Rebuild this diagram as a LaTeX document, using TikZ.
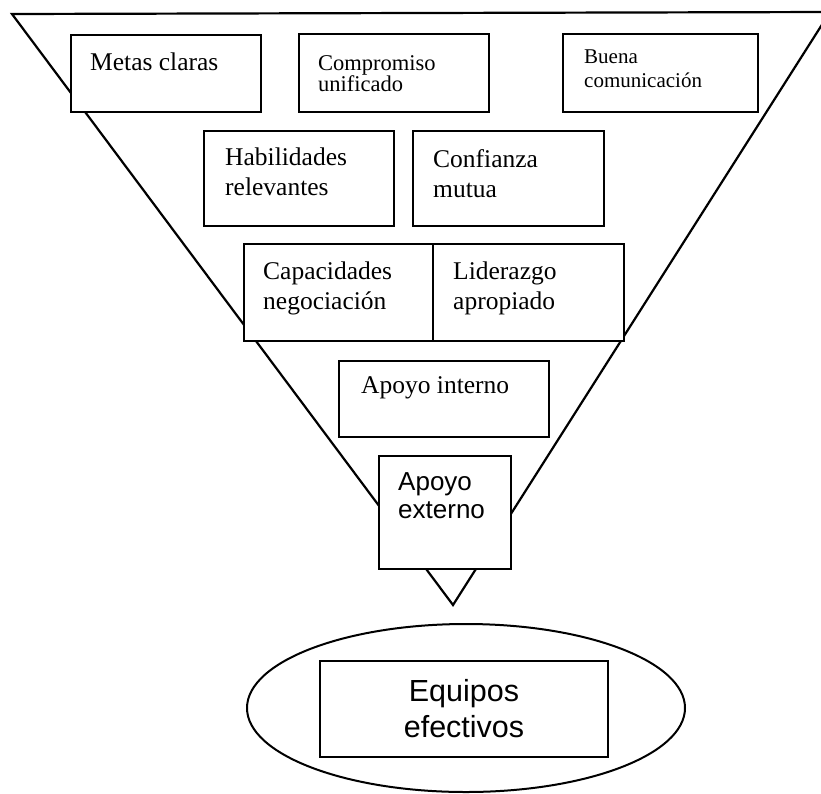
\documentclass[tikz,border=0pt]{standalone}
\usepackage{fontspec}
\setmainfont{Liberation Serif}
\newfontfamily\arialfont{Liberation Sans}
\tikzset{
  box/.style={draw, fill=white, line width=2, anchor=north west, inner sep=0},
  txt/.style={anchor=north west, inner sep=0, align=left, font=\fontsize{25.5}{30}\selectfont},
  smalltxt/.style={txt, font=\fontsize{22.5}{21}\selectfont},
  sanstxt/.style={txt, font=\arialfont\fontsize{26}{28}\selectfont}
}
\begin{document}
\begin{tikzpicture}[x=1pt,y=-1pt]
\useasboundingbox (0,0) rectangle (821,793);
\clip (0,0) rectangle (821,793);

% Funnel
\draw[line width=2.2] (12,14) -- (830,12) -- (453,605) -- cycle;

% Row 1
\node[box, minimum width=190, minimum height=77] (metas) at (70,34) {};
\node[txt] (metasT) at (90,53) {Metas claras};
\node[box, minimum width=190, minimum height=78] (compromiso) at (298,33) {};
\node[smalltxt] (compromisoT) at (318,55) {Compromiso\\unificado};
\node[box, minimum width=195, minimum height=78] (buena) at (562,33) {};
\node[smalltxt, font=\fontsize{21}{24}\selectfont] (buenaT) at (584,50) {Buena\\comunicación};

% Row 2
\node[box, minimum width=190, minimum height=95] (habilidades) at (203,130) {};
\node[txt] (habilidadesT) at (225,148) {Habilidades\\relevantes};
\node[box, minimum width=191, minimum height=95] (confianza) at (412,130) {};
\node[txt] (confianzaT) at (433,149) {Confianza\\mutua};

% Row 3
\node[box, minimum width=189, minimum height=97] (capacidades) at (243,243) {};
\node[txt] (capacidadesT) at (263,262) {Capacidades\\negociación};
\node[box, minimum width=191, minimum height=97] (liderazgo) at (432,243) {};
\node[txt] (liderazgoT) at (453,262) {Liderazgo\\apropiado};

% Row 4
\node[box, minimum width=210, minimum height=76] (interno) at (338,360) {};
\node[txt] (internoT) at (361,376) {Apoyo interno};

% Row 5
\node[box, minimum width=132, minimum height=113] (externo) at (378,455) {};
\node[sanstxt] (externoT) at (398,472) {Apoyo\\externo};

% Result
\draw[line width=2] (466,708) ellipse [x radius=219, y radius=84];
\node[draw, fill=white, line width=2.4, minimum width=288, minimum height=96, align=center,
  font=\arialfont\fontsize{30.5}{36}\selectfont] (equipos) at (464,709) {Equipos\\efectivos};
\end{tikzpicture}
\end{document}
